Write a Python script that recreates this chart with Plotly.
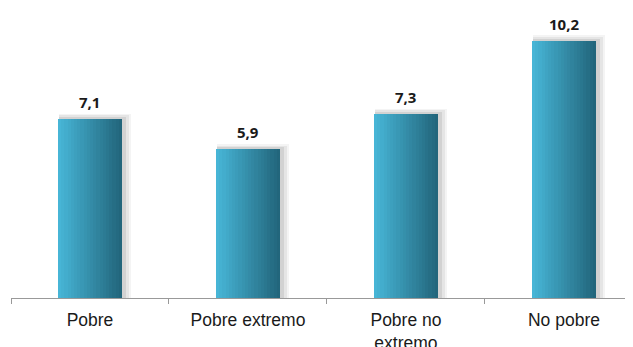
import plotly.graph_objects as go

categories = ["Pobre", "Pobre extremo", "Pobre no<br>extremo", "No pobre"]
values = [7.1, 5.9, 7.3, 10.2]
value_labels = [f"{v:.1f}".replace(".", ",") for v in values]

# style
bar_width = 0.405
n_strips = 20
c_left = (71, 181, 214)
c_right = (34, 102, 124)

fig = go.Figure()

# soft shadow (right & top)
for k, (dx, dh, a) in enumerate([(0.05, 0.22, 0.06), (0.036, 0.15, 0.08), (0.022, 0.09, 0.11)]):
    fig.add_trace(go.Bar(
        x=categories, y=[v + dh for v in values],
        width=bar_width + dx, offset=-bar_width / 2 + 0.006,
        marker=dict(color=f"rgba(60,60,60,{a})", line=dict(width=0)),
        hoverinfo="skip", showlegend=False,
    ))

# gradient strips
sw = bar_width / n_strips
for i in range(n_strips):
    t = i / (n_strips - 1)
    col = tuple(round(c_left[j] + (c_right[j] - c_left[j]) * t) for j in range(3))
    fig.add_trace(go.Bar(
        x=categories, y=values,
        width=sw * 1.05, offset=-bar_width / 2 + i * sw,
        marker=dict(color=f"rgb{col}", line=dict(width=0)),
        hoverinfo="skip", showlegend=False,
    ))

for c, v, lab in zip(categories, values, value_labels):
    fig.add_annotation(x=c, y=v, text=lab, showarrow=False, yanchor="bottom", yshift=5,
                       font=dict(family="Open Sans, Liberation Sans, sans-serif", size=15,
                                 color="#1a1a1a", weight="bold"))

fig.update_layout(
    width=625, height=339,
    margin=dict(l=3, r=0, t=0, b=49),
    paper_bgcolor="white", plot_bgcolor="white",
    barmode="overlay", bargap=0,
    xaxis=dict(
        type="category", range=[-0.5, 3.437], tickson="boundaries",
        ticks="outside", ticklen=5, tickcolor="#999999",
        ticklabelstandoff=6, automargin=False,
        showline=True, linecolor="#999999", linewidth=1,
        tickfont=dict(family="Liberation Sans, Arial, sans-serif", size=17.5, color="#1a1a1a"),
        showgrid=False, zeroline=False,
    ),
    yaxis=dict(range=[0, 11.51], visible=False, showgrid=False, zeroline=False),
    showlegend=False,
)

fig.write_html("out.html")
